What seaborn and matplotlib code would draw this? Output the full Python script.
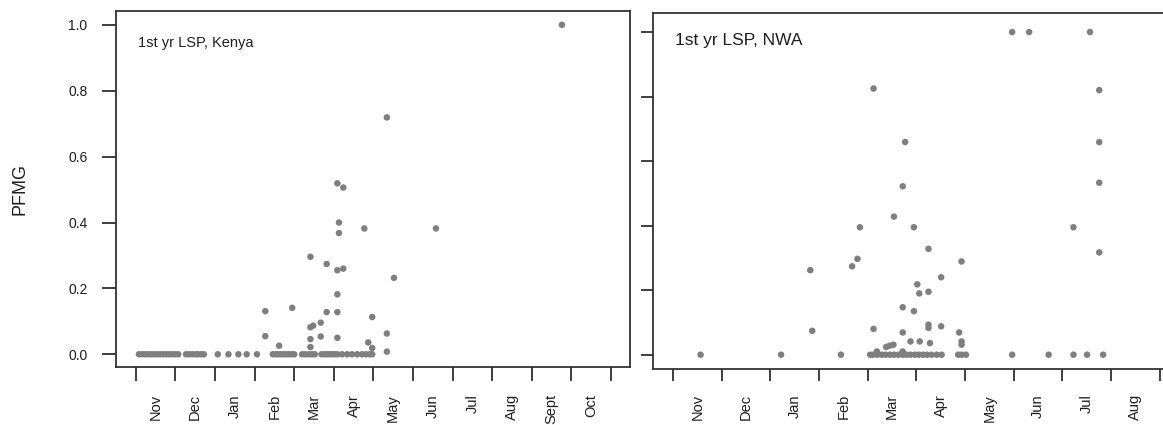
import numpy as np
import pandas as pd
import matplotlib
matplotlib.use("Agg")
import matplotlib.pyplot as plt
import seaborn as sns

# Month labels (x axis runs from 1 November, one unit per month)
kenya_months = ["Nov", "Dec", "Jan", "Feb", "Mar", "Apr", "May", "Jun",
                "Jul", "Aug", "Sept", "Oct"]
nwa_months = ["Nov", "Dec", "Jan", "Feb", "Mar", "Apr", "May", "Jun",
              "Jul", "Aug"]
pfmg_ticks = [0.0, 0.2, 0.4, 0.6, 0.8, 1.0]

# 1st yr LSP, Kenya: sampling date (months since 1 Nov) and PFMG
kenya_date = [
    0.08, 0.16, 0.23, 0.31, 0.39, 0.46, 0.54, 0.61, 0.69, 0.77, 0.84, 0.92, 0.99, 1.07,
    1.27, 1.35, 1.43, 1.51, 1.57, 1.65, 1.72,
    2.07, 2.34, 2.59, 2.80, 3.06,
    3.46, 3.53, 3.59, 3.66, 3.73, 3.80, 3.86, 3.93, 4.00, 4.20, 4.28, 4.37, 4.45, 4.52,
    4.69, 4.76, 4.82, 4.89, 4.96, 5.03, 5.09, 5.21, 5.34, 5.46, 5.59, 5.71, 5.81, 5.90, 5.97,
    3.27, 3.27, 3.62, 3.95, 4.41, 4.82, 5.09, 5.24, 5.09, 4.82, 5.09, 4.41, 4.48, 4.67,
    4.67, 4.41, 4.41, 5.09, 5.97, 5.87, 5.97, 6.34, 5.09, 5.24, 5.13, 5.13, 5.77, 7.58,
    6.52, 6.34, 6.34, 10.76,
]
kenya_pfmg = [
    0, 0, 0, 0, 0, 0, 0, 0, 0, 0, 0, 0, 0, 0,
    0, 0, 0, 0, 0, 0, 0,
    0, 0, 0, 0, 0,
    0, 0, 0, 0, 0, 0, 0, 0, 0, 0, 0, 0, 0, 0,
    0, 0, 0, 0, 0, 0, 0, 0, 0, 0, 0, 0, 0, 0, 0,
    0.131, 0.055, 0.026, 0.141, 0.296, 0.274, 0.255, 0.260, 0.182, 0.128, 0.128, 0.082,
    0.087, 0.096, 0.054, 0.046, 0.022, 0.050, 0.113, 0.036, 0.019, 0.719, 0.519, 0.506,
    0.400, 0.368, 0.382, 0.382, 0.232, 0.063, 0.008, 1.0,
]

# 1st yr LSP, NWA: sampling date (months since 1 Nov) and PFMG
nwa_date = [
    0.565, 2.22, 3.45, 4.05, 4.11, 4.20, 4.29, 4.37, 4.46, 4.54, 4.63, 4.72, 4.80, 4.88,
    4.97, 5.05, 5.14, 5.22, 5.31, 5.42, 5.52, 5.86, 5.93, 6.02, 6.97, 7.72, 8.23, 8.51, 8.84,
    2.82, 2.86, 3.68, 3.79, 3.84, 4.12, 4.12, 4.54, 4.72, 4.77, 4.72, 4.72, 4.95, 4.95,
    4.88, 5.02, 5.06, 5.07, 5.25, 5.25, 5.25, 5.25, 5.28, 5.51, 5.51, 5.93, 5.88, 5.93,
    5.93, 4.19, 4.38, 4.45, 4.53, 4.72, 6.97, 7.32, 8.23, 8.57, 8.76, 8.76, 8.76, 8.76,
]
nwa_pfmg = [
    0, 0, 0, 0, 0, 0, 0, 0, 0, 0, 0, 0, 0, 0,
    0, 0, 0, 0, 0, 0, 0, 0, 0, 0, 0, 0, 0, 0, 0,
    0.262, 0.074, 0.274, 0.297, 0.395, 0.825, 0.080, 0.428, 0.522, 0.659, 0.147, 0.069,
    0.395, 0.135, 0.041, 0.218, 0.190, 0.041, 0.328, 0.195, 0.093, 0.083, 0.036, 0.240,
    0.088, 0.289, 0.069, 0.041, 0.031, 0.010, 0.024, 0.028, 0.031, 0.010, 1.0, 1.0,
    0.395, 1.0, 0.820, 0.659, 0.533, 0.317,
]

kenya = pd.DataFrame({"date": kenya_date, "PFMG": kenya_pfmg})
nwa = pd.DataFrame({"date": nwa_date, "PFMG": nwa_pfmg})

sns.set_style("ticks")
plt.rcParams["font.family"] = ["Liberation Sans", "DejaVu Sans"]

W, H = 1163, 425
fig = plt.figure(figsize=(W / 100, H / 100), dpi=100)


def px_axes(left, right, top, bottom):
    return fig.add_axes([left / W, 1 - bottom / H, (right - left) / W, (bottom - top) / H])


ax1 = px_axes(116, 630, 11, 367)
ax2 = px_axes(653, 1180, 13, 369)

dot = "#7f7f7f"
ink = "#1e1e1e"

for ax, df, months, xlim, ylim, tick_len, pad in [
    (ax1, kenya, kenya_months, (-0.5, 12.48), (-0.0386, 1.042), 10, 19.5),
    (ax2, nwa, nwa_months, (-0.413, 10.42), (-0.0443, 1.059), 8.5, 18.0),
]:
    sns.scatterplot(data=df, x="date", y="PFMG", color=dot, s=22, linewidth=0,
                    edgecolor="none", ax=ax, zorder=3)
    ax.set_xlim(*xlim)
    ax.set_ylim(*ylim)
    ax.set_xlabel("")
    ax.set_ylabel("")
    # month boundaries as ticks, month names centred between them
    ax.set_xticks(np.arange(len(months) + 1))
    ax.set_xticklabels([""] * (len(months) + 1))
    ax.set_xticks(np.arange(len(months)) + 0.5, minor=True)
    ax.set_xticklabels(months, minor=True, rotation=90, ha="center", va="top",
                       fontsize=10.5, color=ink)
    ax.tick_params(axis="x", which="minor", length=0, pad=pad)
    ax.tick_params(axis="both", which="major", direction="out", length=tick_len,
                   width=1.2, color=ink)
    ax.set_yticks(pfmg_ticks)
    for s in ax.spines.values():
        s.set_visible(True)
        s.set_linewidth(1.3)
        s.set_color("#333333")

ax1.set_yticklabels([f"{v:.1f}" for v in pfmg_ticks], fontsize=10, color=ink)
ax1.tick_params(axis="y", pad=10.5)
ax2.set_yticklabels([])

fig.text(19.5 / W, 1 - 189 / H, "PFMG", rotation=90, ha="center", va="center",
         fontsize=13, color=ink)
fig.text(137.7 / W, 1 - 42.5 / H, "1st yr LSP, Kenya", ha="left", va="center",
         fontsize=10.5, color=ink)
fig.text(675 / W, 1 - 41 / H, "1st yr LSP, NWA", ha="left", va="center",
         fontsize=12.5, color=ink)

fig.savefig("out.png", dpi=100)
